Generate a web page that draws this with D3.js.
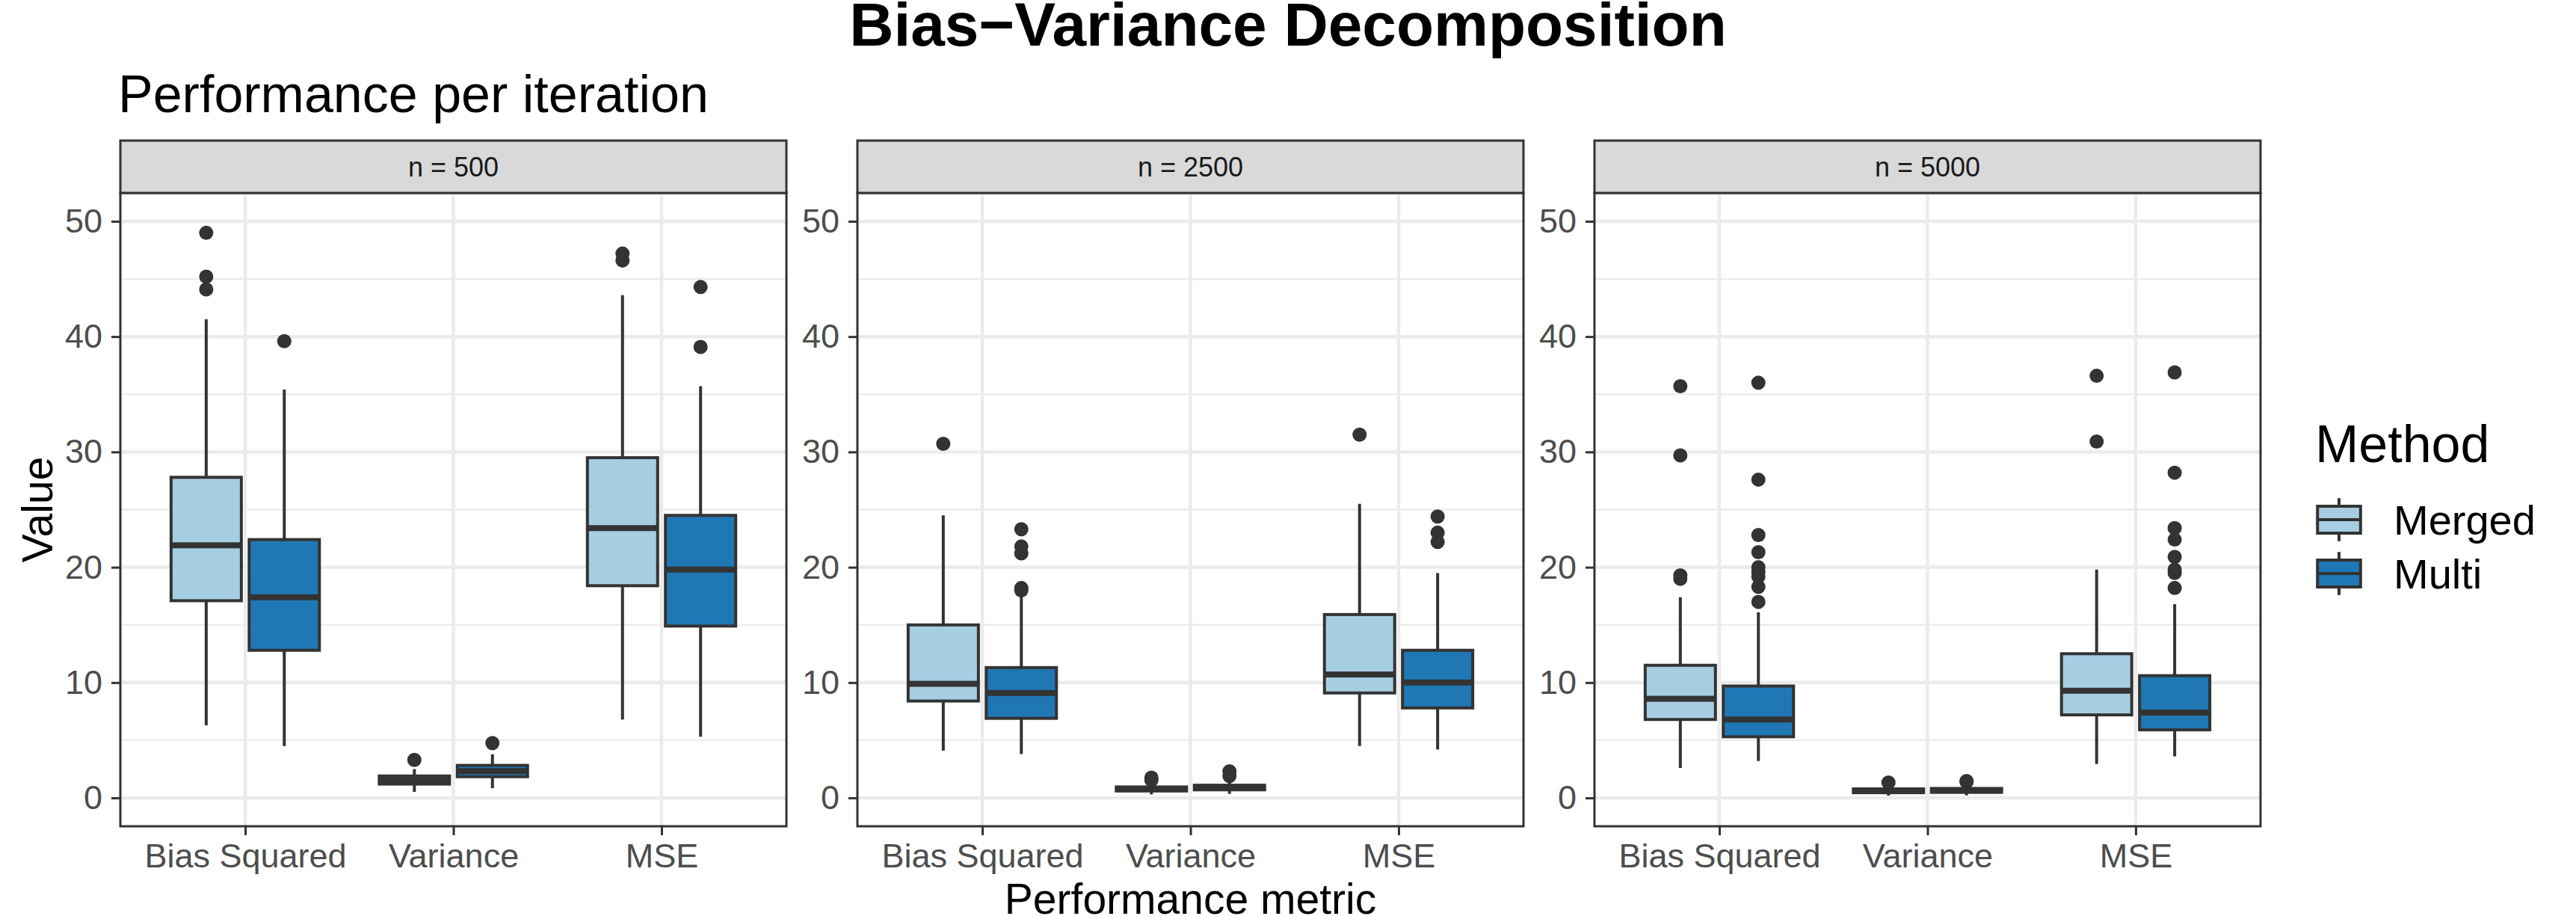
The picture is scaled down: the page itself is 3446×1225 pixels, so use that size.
<!DOCTYPE html>
<html>
<head>
<meta charset="utf-8">
<script src="https://cdn.jsdelivr.net/npm/d3@7"></script>
<style>
  body { margin: 0; background: #fff; }
  text { font-family: "Liberation Sans", Arial, sans-serif; }
</style>
</head>
<body>
<div id="chart"></div>
<script>
// ---- data ----
const panels = ["n = 500", "n = 2500", "n = 5000"]
const metrics = ["Bias Squared", "Variance", "MSE"]
const methods = ["Merged", "Multi"]
const methodColors = ["#A6CEE3", "#1F78B4"]
const yTicks = [0, 10, 20, 30, 40, 50]
const yMinor = [5, 15, 25, 35, 45]

// [metric, method, lower whisker, q1, median, q3, upper whisker, outliers]
const stats500 = [
  ["Bias Squared", "Merged", 6.3, 17.1, 21.9, 27.8, 41.5, [49.0, 45.2, 44.1]],
  ["Bias Squared", "Multi", 4.5, 12.8, 17.4, 22.4, 35.4, [39.6]],
  ["Variance", "Merged", 0.52, 1.2, 1.55, 1.9, 2.5, [3.3]],
  ["Variance", "Multi", 0.84, 1.84, 2.33, 2.82, 3.78, [4.75]],
  ["MSE", "Merged", 6.8, 18.4, 23.4, 29.5, 43.6, [47.2, 46.6]],
  ["MSE", "Multi", 5.3, 14.9, 19.8, 24.5, 35.7, [44.3, 39.1]]
]
const stats2500 = [
  ["Bias Squared", "Merged", 4.1, 8.4, 9.9, 15.0, 24.5, [30.7]],
  ["Bias Squared", "Multi", 3.8, 6.9, 9.1, 11.3, 17.5, [23.3, 21.8, 21.2, 18.2, 18.0]],
  ["Variance", "Merged", 0.3, 0.6, 0.78, 0.95, 1.4, [1.75, 1.55]],
  ["Variance", "Multi", 0.35, 0.7, 0.9, 1.1, 1.6, [2.3, 1.9]],
  ["MSE", "Merged", 4.5, 9.1, 10.7, 15.9, 25.5, [31.5]],
  ["MSE", "Multi", 4.2, 7.8, 10.0, 12.8, 19.5, [24.4, 23.0, 22.2]]
]
const stats5000 = [
  ["Bias Squared", "Merged", 2.6, 6.8, 8.6, 11.5, 17.4, [35.7, 29.7, 19.3, 19.0]],
  ["Bias Squared", "Multi", 3.2, 5.3, 6.8, 9.7, 16.1, [36.0, 27.6, 22.8, 21.3, 20.0, 19.6, 19.2, 18.3, 17.0]],
  ["Variance", "Merged", 0.2, 0.45, 0.6, 0.78, 1.2, [1.33]],
  ["Variance", "Multi", 0.22, 0.48, 0.65, 0.82, 1.25, [1.47, 1.38]],
  ["MSE", "Merged", 2.95, 7.2, 9.3, 12.5, 19.8, [36.6, 30.9]],
  ["MSE", "Multi", 3.6, 5.9, 7.4, 10.6, 16.8, [36.9, 28.2, 23.4, 22.4, 20.9, 19.8, 19.5, 18.2]]
]
const panelStats = [stats500, stats2500, stats5000]

// ---- layout ----
const width = 3446
const height = 1225
const stripTop = 188
const panelTop = 258
const panelBottom = 1105
const ink = "#333333"

const svg = d3.select("#chart").append("svg")
  .attr("width", width)
  .attr("height", height)
  .attr("viewBox", [0, 0, width, height])

const facet = d3.scaleBand()
  .domain(panels)
  .range([161, 3024])
  .paddingInner(0.0963)

const y = d3.scaleLinear()
  .domain([-2.46, 52.46])
  .range([panelBottom, panelTop])

const color = d3.scaleOrdinal().domain(methods).range(methodColors)

svg.append("text")
  .attr("x", width / 2)
  .attr("y", 61)
  .attr("text-anchor", "middle")
  .attr("font-size", 82)
  .attr("font-weight", "bold")
  .attr("fill", "#000")
  .text("Bias\u2212Variance Decomposition")

svg.append("text")
  .attr("x", 158)
  .attr("y", 150)
  .attr("font-size", 70)
  .attr("fill", "#000")
  .text("Performance per iteration")

panels.forEach((p, i) => {
  const left = facet(p)
  const w = facet.bandwidth()
  const g = svg.append("g")

  const x = d3.scalePoint()
    .domain(metrics)
    .range([left, left + w])
    .padding(0.6)

  const step = x.step()
  const dodge = d3.scaleBand()
    .domain(methods)
    .range([-0.375 * step, 0.375 * step])
    .paddingInner(0.1)
    .paddingOuter(0.05)

  // grid
  g.append("g").selectAll("line").data(yMinor).join("line")
    .attr("x1", left).attr("x2", left + w)
    .attr("y1", d => y(d)).attr("y2", d => y(d))
    .attr("stroke", "#EBEBEB").attr("stroke-width", 2.3)
  g.append("g").selectAll("line").data(yTicks).join("line")
    .attr("x1", left).attr("x2", left + w)
    .attr("y1", d => y(d)).attr("y2", d => y(d))
    .attr("stroke", "#EBEBEB").attr("stroke-width", 4.5)
  g.append("g").selectAll("line").data(metrics).join("line")
    .attr("x1", d => x(d)).attr("x2", d => x(d))
    .attr("y1", panelTop).attr("y2", panelBottom)
    .attr("stroke", "#EBEBEB").attr("stroke-width", 4.5)

  // boxes
  const boxes = g.append("g").selectAll("g").data(panelStats[i]).join("g")
    .attr("transform", d => `translate(${x(d[0]) + dodge(d[1])},0)`)
  const bw = dodge.bandwidth()

  boxes.append("line")
    .attr("x1", bw / 2).attr("x2", bw / 2)
    .attr("y1", d => y(d[6])).attr("y2", d => y(d[5]))
    .attr("stroke", ink).attr("stroke-width", 4)
  boxes.append("line")
    .attr("x1", bw / 2).attr("x2", bw / 2)
    .attr("y1", d => y(d[3])).attr("y2", d => y(d[2]))
    .attr("stroke", ink).attr("stroke-width", 4)
  boxes.append("rect")
    .attr("x", 0).attr("width", bw)
    .attr("y", d => y(d[5]))
    .attr("height", d => y(d[3]) - y(d[5]))
    .attr("fill", d => color(d[1]))
    .attr("stroke", ink).attr("stroke-width", 4)
  boxes.append("line")
    .attr("x1", 0).attr("x2", bw)
    .attr("y1", d => y(d[4])).attr("y2", d => y(d[4]))
    .attr("stroke", ink).attr("stroke-width", 8)
  boxes.selectAll("circle").data(d => d[7]).join("circle")
    .attr("cx", bw / 2)
    .attr("cy", d => y(d))
    .attr("r", 9.5)
    .attr("fill", ink)

  // panel border
  g.append("rect")
    .attr("x", left).attr("y", panelTop)
    .attr("width", w).attr("height", panelBottom - panelTop)
    .attr("fill", "none").attr("stroke", ink).attr("stroke-width", 3)

  // strip
  g.append("rect")
    .attr("x", left).attr("y", stripTop)
    .attr("width", w).attr("height", panelTop - stripTop)
    .attr("fill", "#D9D9D9").attr("stroke", ink).attr("stroke-width", 3)
  g.append("text")
    .attr("x", left + w / 2)
    .attr("y", 236)
    .attr("text-anchor", "middle")
    .attr("font-size", 36)
    .attr("fill", "#1A1A1A")
    .text(p)

  // axes
  g.append("g")
    .attr("transform", `translate(${left},0)`)
    .call(d3.axisLeft(y).tickValues(yTicks).tickSize(12).tickPadding(12))
    .call(a => a.select(".domain").remove())
    .call(a => a.selectAll("line").attr("stroke", ink).attr("stroke-width", 3))
    .call(a => a.selectAll("text")
      .attr("fill", "#4D4D4D")
      .attr("font-size", 45)
      .attr("font-family", "'Liberation Sans', Arial, sans-serif"))

  g.append("g")
    .attr("transform", `translate(0,${panelBottom})`)
    .call(d3.axisBottom(x).tickSize(12).tickPadding(11))
    .call(a => a.select(".domain").remove())
    .call(a => a.selectAll("line").attr("stroke", ink).attr("stroke-width", 3))
    .call(a => a.selectAll("text")
      .attr("fill", "#4D4D4D")
      .attr("font-size", 45)
      .attr("font-family", "'Liberation Sans', Arial, sans-serif"))
})

// axis titles
svg.append("text")
  .attr("transform", `translate(70,${(panelTop + panelBottom) / 2}) rotate(-90)`)
  .attr("text-anchor", "middle")
  .attr("font-size", 57)
  .attr("fill", "#000")
  .text("Value")

svg.append("text")
  .attr("x", (facet(panels[0]) + facet(panels[2]) + facet.bandwidth()) / 2)
  .attr("y", 1222)
  .attr("text-anchor", "middle")
  .attr("font-size", 57)
  .attr("fill", "#000")
  .text("Performance metric")

// legend
const legend = svg.append("g")
svg.append("text")
  .attr("x", 3097)
  .attr("y", 618)
  .attr("font-size", 70)
  .attr("fill", "#000")
  .text("Method")

const keySize = 72
const keys = legend.selectAll("g").data(methods).join("g")
  .attr("transform", (d, i) => `translate(3093,${659 + i * keySize})`)
keys.append("line")
  .attr("x1", keySize / 2).attr("x2", keySize / 2)
  .attr("y1", keySize * 0.1).attr("y2", keySize * 0.9)
  .attr("stroke", ink).attr("stroke-width", 4)
keys.append("rect")
  .attr("x", keySize * 0.1).attr("width", keySize * 0.8)
  .attr("y", keySize * 0.25).attr("height", keySize * 0.5)
  .attr("fill", d => color(d))
  .attr("stroke", ink).attr("stroke-width", 4)
keys.append("line")
  .attr("x1", keySize * 0.1).attr("x2", keySize * 0.9)
  .attr("y1", keySize / 2).attr("y2", keySize / 2)
  .attr("stroke", ink).attr("stroke-width", 4)
keys.append("text")
  .attr("x", 109)
  .attr("y", keySize / 2 + 20)
  .attr("font-size", 56)
  .attr("fill", "#000")
  .text(d => d)
</script>
</body>
</html>
